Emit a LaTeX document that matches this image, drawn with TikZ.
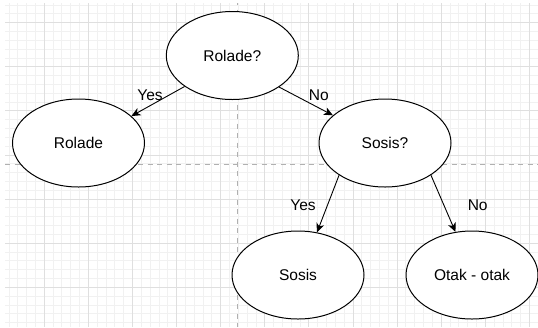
\documentclass[tikz,border=0pt]{standalone}
\usepackage{fontspec}
\setmainfont{Liberation Sans}
\usetikzlibrary{arrows.meta,shapes.geometric}
\definecolor{gridminor}{HTML}{F1F1F1}
\definecolor{gridmajor}{HTML}{DFDFDF}
\definecolor{guide}{HTML}{B0B0B0}
\begin{document}
\begin{tikzpicture}[x=1bp,y=-1bp,
  decision/.style={ellipse, draw=black, fill=white, line width=1bp,
    minimum width=132bp, minimum height=88bp, inner sep=0pt,
    font=\fontsize{15.6}{18}\selectfont},
  branch/.style={draw=black, line width=0.9bp,
    -{Stealth[length=9bp,width=8bp,inset=2.5bp]}},
  answer/.style={anchor=base, inner sep=0pt,
    font=\fontsize{15.6}{18}\selectfont},
  minorline/.style={draw=gridminor, line width=0.9bp},
  majorline/.style={draw=gridmajor, line width=1bp},
  guideline/.style={draw=guide, line width=1bp, dash pattern=on 5bp off 4.5bp}]

% page background
\useasboundingbox[fill=white] (0,0) rectangle (538,327);

% canvas grid
\begin{scope}
  \clip (5,3) rectangle (538,327);
  \foreach \i in {1,...,61} {
    \pgfmathsetmacro{\gx}{0.2+8.82*\i}
    \draw[minorline] (\gx,0) -- (\gx,327);
  }
  \foreach \i in {-2,...,34} {
    \pgfmathsetmacro{\gy}{22.7+8.82*\i}
    \draw[minorline] (0,\gy) -- (538,\gy);
  }
  \foreach \j in {1,...,12} {
    \pgfmathsetmacro{\gx}{0.2+44.1*\j}
    \draw[majorline] (\gx,0) -- (\gx,327);
  }
  \foreach \j in {0,...,6} {
    \pgfmathsetmacro{\gy}{22.7+44.1*\j}
    \draw[majorline] (0,\gy) -- (538,\gy);
  }
  % page break guides
  \draw[guideline] (5,164) -- (538,164);
  \draw[guideline] (237.3,0) -- (237.3,327);
\end{scope}

% decision tree
\node[decision] (q1) at (232.3,55.5) {Rolade?};
\node[decision] (r1) at (78.5,143) {Rolade};
\node[decision] (q2) at (385,143) {Sosis?};
\node[decision] (r2) at (298,275) {Sosis};
\node[decision] (r3) at (472,275) {Otak - otak};

\draw[branch] (q1.213.5) -- (r1.27.2);
\draw[branch] (q1.326.1) -- (q2.152.2);
\draw[branch] (q2.215.1) -- (r2.66.2);
\draw[branch] (q2.325.7) -- (r3.111.9);

\node[answer] (a1) at (150,100) {Yes};
\node[answer] (a2) at (318.8,100) {No};
\node[answer] (a3) at (303,210.3) {Yes};
\node[answer] (a4) at (477.7,210.3) {No};
\end{tikzpicture}
\end{document}
